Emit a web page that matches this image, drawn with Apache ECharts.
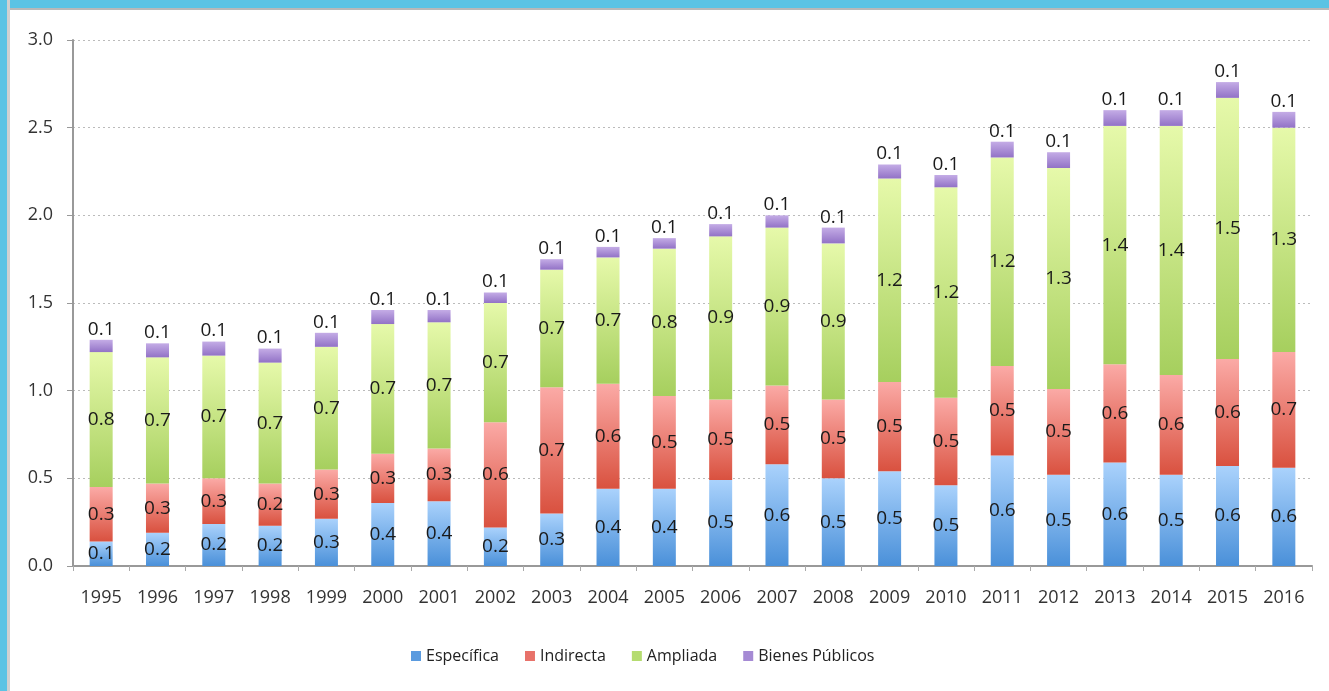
<!DOCTYPE html>
<html>
<head>
    <meta charset="utf-8">
    <title>Stacked bars</title>
    <script src="https://cdn.jsdelivr.net/npm/echarts@6/dist/echarts.min.js"></script>
    <style>
        html, body { margin: 0; padding: 0; background: #fff; overflow: hidden; }
        #frame-top { position: absolute; left: 0; top: 0; width: 1329px; height: 8px; background: #5bc3e4; border-bottom: 2px solid #b8b8b8; }
        #frame-left { position: absolute; left: 0; top: 0; width: 7px; height: 691px; background: #5bc3e4; border-right: 3px solid #d0d0d0; }
        #main { position: absolute; left: 0; top: 0; width: 1329px; height: 691px; }
    </style>
</head>
<body>
<div id="main"></div>
<div id="frame-top"></div>
<div id="frame-left"></div>
<script>
    // datos
    var years = ['1995', '1996', '1997', '1998', '1999', '2000', '2001', '2002', '2003', '2004', '2005',
        '2006', '2007', '2008', '2009', '2010', '2011', '2012', '2013', '2014', '2015', '2016'];
    var especifica = [0.14, 0.19, 0.24, 0.23, 0.27, 0.36, 0.37, 0.22, 0.30, 0.44, 0.44,
        0.49, 0.58, 0.50, 0.54, 0.46, 0.63, 0.52, 0.59, 0.52, 0.57, 0.56];
    var indirecta = [0.31, 0.28, 0.26, 0.24, 0.28, 0.28, 0.30, 0.60, 0.72, 0.60, 0.53,
        0.46, 0.45, 0.45, 0.51, 0.50, 0.51, 0.49, 0.56, 0.57, 0.61, 0.66];
    var ampliada = [0.77, 0.72, 0.70, 0.69, 0.70, 0.74, 0.72, 0.68, 0.67, 0.72, 0.84,
        0.93, 0.90, 0.89, 1.16, 1.20, 1.19, 1.26, 1.36, 1.42, 1.49, 1.28];
    var bienes = [0.07, 0.08, 0.08, 0.08, 0.08, 0.08, 0.07, 0.06, 0.06, 0.06, 0.06,
        0.07, 0.07, 0.09, 0.08, 0.07, 0.09, 0.09, 0.09, 0.09, 0.09, 0.09];
    var yTicks = [0, 0.5, 1.0, 1.5, 2.0, 2.5, 3.0];

    var font = 'Open Sans';

    function grad(top, bottom) {
        return new echarts.graphic.LinearGradient(0, 0, 0, 1, [
            {offset: 0, color: top},
            {offset: 1, color: bottom}
        ]);
    }

    function serie(name, data, top, bottom, legendColor, pos) {
        return {
            name: name,
            type: 'bar',
            stack: 'total',
            barWidth: 23,
            data: data,
            itemStyle: {color: grad(top, bottom)},
            label: {
                show: true,
                position: pos,
                distance: 1,
                color: '#1a1a1a',
                fontFamily: font,
                fontSize: 19,
                formatter: function (p) { return p.value.toFixed(1); }
            },
            legendColor: legendColor
        };
    }

    var series = [
        serie('Específica', especifica, '#aad2fc', '#4a90d9', '#5b9bdf', 'inside'),
        serie('Indirecta', indirecta, '#fbaaa6', '#d9513f', '#e8726a', 'inside'),
        serie('Ampliada', ampliada, '#e6f9aa', '#a6cf5e', '#b5dc70', 'inside'),
        serie('Bienes Públicos', bienes, '#c4ace6', '#9272c6', '#a58ad4', 'top')
    ];

    var chart = echarts.init(document.getElementById('main'));
    var option = {
        animation: false,
        backgroundColor: '#fff',
        grid: {left: 73, right: 17, top: 40, bottom: 125},
        legend: {
            top: 643,
            left: 406,
            itemWidth: 10,
            itemHeight: 10,
            itemGap: 26,
            icon: 'rect',
            textStyle: {fontFamily: font, fontSize: 16, color: '#222'},
            data: series.map(function (s) {
                return {name: s.name, itemStyle: {color: s.legendColor}};
            })
        },
        xAxis: {
            type: 'category',
            data: years,
            axisLine: {lineStyle: {color: '#999', width: 2}},
            axisTick: {show: true, alignWithLabel: false, length: 5, lineStyle: {color: '#aaa'}},
            axisLabel: {fontFamily: font, fontSize: 18, color: '#333', margin: 23}
        },
        yAxis: {
            type: 'value',
            min: 0,
            max: 3,
            interval: 0.5,
            axisLine: {show: true, lineStyle: {color: '#999', width: 2}},
            axisTick: {show: true, inside: false, length: 6, lineStyle: {color: '#999'}},
            axisLabel: {
                fontFamily: font, fontSize: 18, color: '#333', margin: 20,
                formatter: function (v) { return yTicks.indexOf(v) >= 0 ? v.toFixed(1) : ''; }
            },
            splitLine: {lineStyle: {color: '#bbb', type: [2, 3], width: 1}}
        },
        series: series.map(function (s) {
            var c = Object.assign({}, s);
            delete c.legendColor;
            return c;
        })
    };
    chart.setOption(option);
</script>
</body>
</html>
